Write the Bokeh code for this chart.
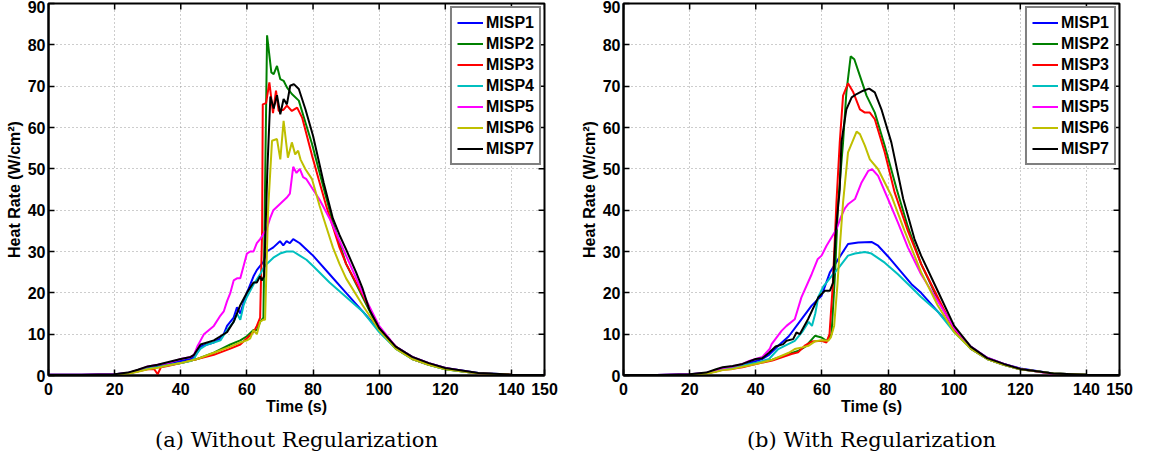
from bokeh.plotting import figure
from bokeh.layouts import row
from bokeh.models import FixedTicker, Legend, LegendItem, Title, Range1d
from bokeh.embed import file_html
from bokeh.resources import INLINE

NAMES = ["MISP1", "MISP2", "MISP3", "MISP4", "MISP5", "MISP6", "MISP7"]
COLORS = ["#0000ff", "#008000", "#ff0000", "#00bfbf", "#ff00ff", "#bfbf00", "#000000"]
X_TICKS = [0, 20, 40, 60, 80, 100, 120, 140, 150]
Y_TICKS = [0, 10, 20, 30, 40, 50, 60, 70, 80, 90]
X_MAX = 150
Y_MAX = 90
CAPTIONS = ["(a) Without Regularization", "(b) With Regularization"]

# ---------- (a) Without Regularization ----------
A1_T = [0,10,20,24,27,30,33,36,40,43,44,45,46,48,50,52,53,54,56,57,58,59,60,61,62,63,64,65,66,68,70,71,72,73,74,76,78,80,85,90,95,100,105,110,115,120,130,140,150]
A1_V = [0.2,0.2,0.3,0.6,1.2,2,2.3,2.8,3.5,4,4.5,5.5,7,7.5,8,9,10,12,14,16.5,15,17.5,20,22,24,25.5,26.5,27.5,30,31,32.5,31.5,32.5,32,33,32,30.5,29,24.5,20,15.5,11,7,4.5,3,1.8,0.6,0.2,0.1]

A2_T = [0,10,20,24,27,30,33,36,40,45,50,55,58,60,62,63,64,65,65.4,66.1,67.4,68.1,69.1,70.1,71.1,72.1,73.6,75.7,77.7,79.7,81.7,84,86,88,90,95,100,105,110,115,120,130,140,150]
A2_V = [0.1,0.1,0.2,0.5,1,1.6,2,2.5,3,4,5.5,7.5,8.5,9.5,11,11,13,14,40,82.3,73.3,72.9,74.9,71.7,71.3,69.7,68.1,66.5,61.2,56,49.9,43,37,32,27,19,11,6.5,4,2.6,1.5,0.5,0.2,0.1]

A3_T = [0,10,20,24,27,30,32,33,34,36,40,45,50,55,58,60,62,63,64,64.6,64.8,65.8,66.8,67.9,68.8,69.6,71.1,72.1,73.6,75.2,76.7,79.7,81.7,84,86,88,90,95,100,105,110,115,120,130,140,150]
A3_V = [0.1,0.1,0.2,0.5,1,1.5,1.5,0.3,2,2.3,3,4,5,6.5,7.5,9,10.5,12,14,35,65.6,65.9,70.9,63.5,68.9,64,64.3,65.3,64,64.8,62.4,53.2,47.5,41,36,31,27,19.5,11.5,7,4,2.6,1.6,0.5,0.2,0.1]

A4_T = [0,10,20,24,27,30,33,36,40,43,44,45,46,48,50,52,54,55,56,57,58,59,60,62,64,65,66,68,70,72,74,76,78,80,85,90,95,100,105,110,115,120,130,140,150]
A4_V = [0.1,0.1,0.2,0.5,1,1.7,2,2.5,3,3.5,4,5.5,6.5,7.5,8,8.5,11,12,13,15,13.5,17,19,22,24.5,26,27,28.5,29.5,30,30,29,28,26.5,22.5,19,15.5,10.5,6.5,4,2.6,1.5,0.5,0.2,0.1]

A5_T = [0,10,20,24,27,30,33,36,40,43,44,45,46,47,50,52,53,54,55,56,57,58,59,60,61,62,63,64,66,67,68,70,72,73,74,75,76,77,78,80,82,85,90,95,100,105,110,115,120,130,140,150]
A5_V = [0.2,0.2,0.3,0.6,1.3,2.2,2.6,3,4,4.5,5,7,8.5,10,12,14.5,15.5,18,20,23,23.5,23.5,26.5,29.5,30,30,32,33,35.5,38,40,41.5,43,44,50.5,49,50,48,47.5,45,42.5,38,29,20,12,7,4.5,3,1.8,0.5,0.2,0.1]

A6_T = [0,10,20,24,27,30,33,36,40,45,50,55,58,60,61,62,63,64,65,65.5,66.4,67.6,69.1,70.1,71.1,72.4,73.6,74.6,75.5,76.2,77.7,79.7,82,84,86,88,90,95,100,105,110,115,120,130,140,150]
A6_V = [0.1,0.1,0.2,0.4,0.9,1.5,1.9,2.4,3,4,5.5,7,8,8.5,9,11,10,13,13.5,13.5,40,56.8,57.2,52.3,61.6,52.7,56.4,53.5,54.4,52.3,49.9,47.5,41,36,31,27,23.5,17,11,6.5,4,2.6,1.5,0.5,0.2,0.1]

A7_T = [0,10,20,24,27,30,33,36,40,43,44,46,48,50,52,54,56,58,60,62,63,64,64.5,65.2,66.2,67.1,68.1,69.1,70.1,71.1,72.1,73.1,74.2,75.7,77.7,80,83.2,86,88,90,93,95,97,100,105,110,115,120,130,140,150]
A7_V = [0.2,0.2,0.3,0.7,1.4,2.2,2.6,3.2,4,4.5,5,7.5,8,8.5,9.5,10.5,13,17,20,22.5,22.5,24,23,24,50,67.5,64.6,67.8,63.2,66.9,65.6,70.1,70.5,69.3,64.4,58,46.7,38,34,30.5,25,21,16,11.5,7,4.5,3,1.8,0.6,0.2,0.1]

# ---------- (b) With Regularization ----------
B1_T = [0,10,20,25,28,30,33,36,40,42,44,46.8,50,53.8,56.9,59.9,62.4,64.9,67.9,71,75,77,80,83,87.1,90,95,100,105,110,115,120,130,140,150]
B1_V = [0.1,0.1,0.3,0.6,1.3,1.8,2.1,2.6,3.5,4,5,7.2,9.5,13.6,16.9,19.3,24.9,28.1,31.8,32.2,32.3,31.4,28.8,26,22.1,20,15.5,11,7,4.3,2.8,1.7,0.5,0.2,0.1]

B2_T = [0,10,20,25,28,30,33,36,40,45,50,53,55,57.9,59.9,61.4,62.9,64,64.9,66.4,67.4,68.7,69.8,71.5,73.5,76,79,82.6,86,90,95,100,105,110,115,120,130,140,150]
B2_V = [0.1,0.1,0.2,0.5,1,1.5,1.8,2.3,3,3.8,5.2,6,7,9.6,9.2,8.4,10,25,41.9,56.4,68.5,77.2,76.5,72.5,67.7,63.6,55.6,45.1,36,27,18.5,11,6.5,4,2.6,1.5,0.5,0.2,0.1]

B3_T = [0,10,20,25,28,30,33,36,40,45,50.8,52.8,54.8,57,59.9,61.4,62.3,63.3,64.4,65.4,66.4,67.9,69.5,71.5,73,74.5,76,79,82,86,90,95,100,105,110,115,120,130,140,150]
B3_V = [0.1,0.1,0.2,0.5,1,1.4,1.6,2,2.8,3.6,5.2,5.6,7.2,8.2,8.4,8,10,22,41.9,56.4,67.7,70.7,68.5,64.4,63.6,63.6,62,54,44.3,35,27,19,11,6.5,4,2.6,1.5,0.5,0.2,0.1]

B4_T = [0,10,20,25,28,30,33,36,40,44,46.8,49.8,51.8,54,56,57,58,58.9,60.4,63.4,65,67.9,70,73,75,79,83,87.1,90,95,100,105,110,115,120,130,140,150]
B4_V = [0.1,0.1,0.2,0.5,1.1,1.6,1.9,2.4,3,4,6.4,7.6,8.4,10.5,13,12,15,19,21.5,24.5,26,29,29.5,29.9,29.5,27.3,24.5,21.3,19,15.5,10.5,6.5,4,2.6,1.5,0.5,0.2,0.1]

B5_T = [0,10,20,25,28,30,33,36,38,40,42,44.2,44.8,47.8,49.3,51.8,53.8,56.9,58.7,59.9,61.4,64.4,65.9,67,68,70,72,74,75.2,77,80,83,86,90,95,100,105,110,115,120,130,140,150]
B5_V = [0.1,0.1,0.3,0.6,1.3,1.8,2.2,2.8,3.5,4,4.5,6.4,7.6,10.8,12,13.6,18.9,24.5,28.1,29,31.4,35.4,38.6,40.5,41.5,42.7,46.7,49.5,49.9,48.3,42.7,37,31,24.5,18,11.5,7,4.3,2.8,1.6,0.3,0.1,0.1]

B6_T = [0,10,20,25,28,30,33,36,40,45,50,51.8,54,56,58,60,61.9,62.7,63.7,64.7,65.5,66.4,67.9,70.5,71.5,73,74.5,77,81,85,90,95,100,105,110,115,120,130,140,150]
B6_V = [0.1,0.1,0.2,0.4,0.9,1.3,1.6,2.1,2.8,3.8,5.5,6.4,6.8,7.2,8.3,8.5,8.4,9.2,12,22,32,41.9,54,59,58.4,55.6,52.3,49.9,43.5,35,25,17,10.5,6.5,4,2.6,1.5,0.5,0.2,0.1]

B7_T = [0,10,20,25,28,30,33,36,40,42,44,46,48.3,49.3,51.3,52.3,53.3,55.8,58.9,60.9,62.4,63.4,64.2,65.4,65.9,67.4,69,70.5,72.5,74.3,76,78,81,84.6,88,90,95,100,105,110,115,120,130,140,150]
B7_V = [0.1,0.1,0.3,0.7,1.5,2,2.3,2.8,4,4.2,5.5,7,7.6,8.4,8.8,10.4,10,13.6,18.9,20.5,20.5,22.5,35,45,56.4,64.4,67.3,68.1,68.9,69.4,68.5,64.4,56.4,42.7,33,29,20.5,12,7,4.2,2.8,1.6,0.5,0.2,0.1]

PANEL_A = [(A1_T, A1_V), (A2_T, A2_V), (A3_T, A3_V), (A4_T, A4_V), (A5_T, A5_V), (A6_T, A6_V), (A7_T, A7_V)]
PANEL_B = [(B1_T, B1_V), (B2_T, B2_V), (B3_T, B3_V), (B4_T, B4_V), (B5_T, B5_V), (B6_T, B6_V), (B7_T, B7_V)]

FONT = "Liberation Sans"
FRAME_W, FRAME_H = 496, 372
TICK_PX = 6


def make_panel(series, caption, border_left, border_right):
    p = figure(frame_width=FRAME_W, frame_height=FRAME_H,
               x_range=Range1d(0, X_MAX), y_range=Range1d(0, Y_MAX),
               output_backend="svg", toolbar_location=None,
               min_border_left=border_left, min_border_right=border_right,
               min_border_top=3, min_border_bottom=20,
               background_fill_color="white", border_fill_color="white")
    p.outline_line_color = "black"
    p.outline_line_width = 2
    p.outline_line_alpha = 1

    for ax, ticks in ((p.xaxis[0], X_TICKS), (p.yaxis[0], Y_TICKS)):
        ax.ticker = FixedTicker(ticks=ticks)
        ax.axis_line_width = 2
        ax.axis_line_color = "black"
        ax.major_tick_in = TICK_PX
        ax.major_tick_out = 0
        ax.major_tick_line_width = 1.5
        ax.major_tick_line_color = "black"
        ax.minor_tick_line_color = None
        ax.major_label_text_font = FONT
        ax.major_label_text_font_style = "bold"
        ax.major_label_text_font_size = "16px"
        ax.major_label_text_color = "black"
        ax.axis_label_text_font = FONT
        ax.axis_label_text_font_style = "bold"
        ax.axis_label_text_font_size = "16px"
        ax.axis_label_text_color = "black"
    p.xaxis.major_label_standoff = 7
    p.xaxis.axis_label_standoff = 0
    p.yaxis.major_label_standoff = 3
    p.yaxis.axis_label_standoff = 2
    p.xaxis.axis_label = "Time (s)"
    p.yaxis.axis_label = "Heat Rate (W/cm\u00b2)"

    # inward ticks on the top and right edges of the box (MATLAB style)
    dy = TICK_PX / FRAME_H * Y_MAX
    dx = TICK_PX / FRAME_W * X_MAX
    p.segment(x0=X_TICKS, y0=[Y_MAX] * len(X_TICKS), x1=X_TICKS,
              y1=[Y_MAX - dy] * len(X_TICKS), line_color="black", line_width=1.5)
    p.segment(x0=[X_MAX] * len(Y_TICKS), y0=Y_TICKS, x1=[X_MAX - dx] * len(Y_TICKS),
              y1=Y_TICKS, line_color="black", line_width=1.5)

    p.xgrid.ticker = FixedTicker(ticks=X_TICKS)
    p.ygrid.ticker = FixedTicker(ticks=Y_TICKS)
    p.grid.grid_line_color = "#9a9a9a"
    p.grid.grid_line_dash = "1 3"
    p.grid.grid_line_width = 1

    items = []
    for (t, v), name, color in zip(series, NAMES, COLORS):
        r = p.line(t, v, line_color=color, line_width=2)
        items.append(LegendItem(label=name, renderers=[r]))
    legend = Legend(items=items, location="top_right",
                    border_line_color="black", border_line_width=2,
                    label_text_font=FONT, label_text_font_style="bold",
                    label_text_font_size="16px", label_text_color="black",
                    glyph_width=26, glyph_height=19, label_height=19,
                    spacing=2, padding=5, margin=3, label_standoff=3,
                    background_fill_color="white", background_fill_alpha=1)
    p.add_layout(legend)

    p.add_layout(Title(text=caption, align="center", text_font="DejaVu Serif",
                       text_font_size="21px", text_font_style="normal",
                       text_color="black", standoff=16), "below")
    return p


pa = make_panel(PANEL_A, CAPTIONS[0], 48, 32)
pb = make_panel(PANEL_B, CAPTIONS[1], 47, 16)
layout = row(pa, pb, spacing=0)

open("out.html", "w").write(file_html(layout, INLINE))
